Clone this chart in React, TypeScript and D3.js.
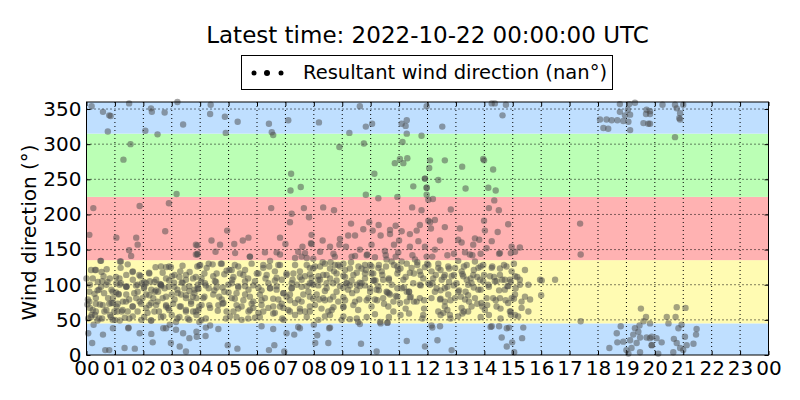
import { useEffect, useRef } from "react";
import * as d3 from "d3";

// wind direction observations, [hour of day (UTC), degrees]
const obs00to04 = [
  [0.18, 354], [0.58, 346], [0.8, 341], [0.85, 340], [0.75, 318], [1.5, 358], [1.55, 300], [1.3, 278],
  [2.27, 351], [2.3, 346], [2.75, 345], [2.07, 319], [2.5, 314], [3.2, 360], [3.4, 328], [3.17, 229],
  [0.24, 209], [1.87, 212], [2.9, 216], [0.1, 171], [1.05, 167], [1.75, 167], [1.8, 157], [1.5, 149],
  [2.77, 176], [3.9, 156], [3.9, 143], [1.57, 141],
  [0.49, 134], [0.3, 121], [0.53, 118], [0.6, 112], [1.18, 133], [1.2, 124], [1.63, 119], [1.9, 112],
  [2.2, 117], [2.43, 125], [2.8, 125], [2.97, 125], [3.3, 119], [3.63, 118], [3.9, 126],
  [0.0, 109], [0.4, 104], [0.55, 105], [0.88, 93], [1.17, 100], [1.4, 97], [1.95, 102], [2.02, 95],
  [2.23, 105], [2.58, 101], [2.75, 95], [2.9, 97], [3.08, 103], [3.35, 103], [3.62, 91], [3.8, 93],
  [0.05, 79], [0.33, 81], [0.62, 88], [0.93, 81], [1.13, 86], [1.28, 76], [1.5, 79], [1.75, 81],
  [2.1, 86], [2.35, 81], [2.52, 90], [2.68, 81], [3.0, 86], [3.33, 86], [3.5, 81], [3.87, 81],
  [0.12, 67], [0.47, 72], [0.7, 64], [0.88, 74], [1.06, 69], [1.24, 62], [1.63, 69], [1.87, 76],
  [2.1, 67], [2.28, 74], [2.55, 62], [2.87, 67], [3.28, 69], [3.5, 64], [3.75, 62],
  [0.06, 52], [0.3, 57], [0.83, 57], [1.35, 53], [1.63, 55], [1.93, 50], [2.28, 49], [2.7, 55],
  [3.0, 57], [3.2, 52], [3.56, 52], [3.87, 57],
  [0.25, 43], [0.06, 31], [0.58, 29], [0.93, 38], [1.47, 38], [1.87, 31], [2.28, 30], [2.7, 38],
  [2.93, 43], [3.15, 36], [3.4, 31], [3.62, 24], [3.87, 33], [0.2, 17], [0.66, 7], [0.8, 7],
  [1.34, 10], [1.7, 9], [2.33, 18], [2.97, 17], [3.28, 12], [3.5, 5],
  [0.28, 87], [0.44, 93], [0.76, 81], [0.93, 74], [1.08, 62], [1.4, 86], [1.45, 62], [1.8, 90],
  [1.97, 81], [2.15, 60], [2.4, 90], [2.45, 71], [2.63, 98], [2.8, 71], [3.1, 79], [3.2, 93],
  [3.45, 95], [3.68, 76], [3.8, 88], [0.1, 90], [0.03, 72], [0.18, 57], [0.33, 62], [0.55, 52],
  [1.0, 50], [1.17, 49], [1.4, 114], [1.63, 107], [1.8, 100], [2.1, 102], [2.28, 93], [2.45, 107],
  [2.8, 109], [3.1, 114], [3.5, 107], [3.75, 109], [3.92, 100], [1.05, 102], [0.82, 109], [0.7, 100],
  [0.12, 100], [2.62, 100], [1.4, 97],
];

const obs04to08 = [
  [4.37, 356], [4.35, 343], [4.87, 339], [5.32, 332], [4.9, 316], [6.42, 329], [6.52, 317], [6.57, 313],
  [7.1, 334], [7.2, 258], [7.18, 234], [7.54, 239], [6.5, 209], [7.22, 201], [7.16, 189], [7.65, 209],
  [7.83, 196], [4.95, 177], [4.4, 163], [4.7, 157], [5.2, 158], [5.5, 163], [5.7, 167], [6.81, 167],
  [7.0, 158], [7.6, 154], [7.9, 159], [3.85, 157], [3.91, 144], [4.54, 147],
  [5.23, 145], [5.75, 140], [6.28, 146], [6.69, 146], [7.34, 138], [7.69, 145],
  [4.0, 128], [4.3, 130], [4.76, 130], [5.34, 126], [5.81, 130], [6.22, 124], [6.46, 134], [6.81, 128],
  [7.04, 116], [7.51, 119], [7.86, 124],
  [4.05, 109], [4.46, 112], [4.93, 120], [5.13, 107], [5.52, 114], [5.93, 105], [6.3, 109], [6.63, 106],
  [7.22, 102], [7.57, 107], [7.92, 102],
  [3.94, 94], [4.3, 95], [4.58, 96], [4.85, 90], [5.34, 98], [5.7, 93], [6.05, 96], [6.46, 95],
  [6.93, 88], [7.22, 95], [7.75, 98],
  [4.11, 81], [4.46, 86], [4.76, 79], [5.11, 81], [5.58, 86], [5.87, 76], [6.28, 81], [6.75, 79],
  [7.04, 83], [7.45, 79], [7.86, 83],
  [3.94, 64], [4.35, 67], [4.82, 74], [5.17, 62], [5.46, 69], [5.87, 67], [6.16, 71], [6.63, 60],
  [6.93, 67], [7.34, 74], [7.69, 62],
  [4.05, 50], [4.35, 42], [4.64, 37], [5.05, 55], [5.46, 50], [5.93, 53], [6.57, 37], [6.89, 52],
  [7.04, 31], [7.31, 29], [7.51, 38],
  [3.88, 26], [4.19, 27], [4.97, 14], [5.31, 9], [6.42, 7], [6.61, 14], [6.96, 5],
  [4.17, 102], [4.52, 105], [4.99, 100], [5.28, 88], [5.58, 105], [5.75, 83], [6.1, 86], [6.4, 102],
  [6.69, 93], [6.87, 107], [7.16, 86], [7.4, 100], [7.63, 86], [7.81, 90], [4.05, 71], [4.64, 71],
  [4.93, 62], [5.28, 71], [5.7, 62], [6.05, 60], [6.4, 67], [6.81, 69], [7.16, 62], [7.51, 62],
  [7.86, 69], [4.23, 124], [4.58, 116], [5.11, 121], [5.58, 121], [6.05, 116], [6.63, 119], [7.34, 128],
  [7.69, 112], [6.81, 143], [7.45, 147], [7.75, 138],
];

const obs08to12 = [
  [9.62, 354], [8.18, 331], [9.83, 325], [10.05, 329], [9.25, 316], [8.9, 296], [9.76, 301], [11.09, 329],
  [11.27, 334], [11.23, 326], [11.27, 315], [11.12, 303], [11.79, 312],
  [11.03, 279], [11.15, 273], [11.29, 280], [10.85, 273], [10.13, 258], [11.91, 251], [11.5, 240], [11.97, 238],
  [9.83, 228], [10.27, 223], [10.94, 225], [8.33, 210], [8.71, 206], [11.46, 210], [11.79, 206], [11.97, 228],
  [9.31, 187], [9.95, 189], [10.28, 185], [10.88, 184], [10.68, 178], [11.09, 176], [11.73, 185], [12.03, 191],
  [8.31, 163], [8.92, 165], [9.21, 170], [9.45, 170], [9.74, 179], [10.07, 177], [10.35, 170], [10.68, 172],
  [11.0, 163], [11.38, 172], [11.62, 177], [7.92, 171], [7.92, 158],
  [8.22, 147], [8.57, 154], [8.9, 157], [9.13, 154], [9.62, 150], [10.03, 157], [10.5, 148], [10.82, 157],
  [11.38, 154], [11.68, 162], [11.91, 154],
  [8.69, 144], [9.33, 140], [9.88, 143], [10.15, 139], [10.56, 136], [10.97, 146], [11.56, 136], [11.97, 140],
  [8.04, 126], [8.31, 132], [8.59, 132], [8.92, 126], [9.31, 132], [9.8, 128], [10.27, 124], [10.54, 126],
  [10.94, 126], [11.27, 130], [11.64, 132], [11.91, 125],
  [7.92, 110], [8.33, 114], [8.71, 119], [9.04, 113], [9.33, 106], [9.51, 117], [9.83, 121], [10.12, 106],
  [10.39, 119], [10.64, 107], [10.97, 121], [11.38, 117], [11.73, 119],
  [7.98, 100], [8.45, 102], [8.8, 106], [9.15, 102], [9.68, 102], [9.98, 95], [10.27, 98], [10.56, 90],
  [11.09, 95], [11.35, 90], [11.73, 100], [12.03, 102],
  [8.1, 86], [8.39, 91], [8.8, 90], [9.04, 82], [9.35, 88], [9.62, 98], [10.21, 93], [10.44, 81],
  [10.89, 84], [11.27, 90], [11.38, 82], [11.62, 76],
  [8.19, 79], [8.57, 79], [9.04, 68], [9.6, 79], [10.15, 79], [10.8, 76],
  [8.69, 68], [8.39, 55], [9.04, 55], [9.27, 51], [9.62, 44], [10.15, 58], [10.33, 47], [10.59, 46],
  [10.8, 62], [11.27, 76], [11.85, 57],
  [8.0, 43], [8.54, 38], [8.12, 28], [8.05, 17], [8.51, 17], [9.66, 16], [10.21, 5], [11.27, 20], [11.91, 12],
  [8.16, 107], [8.57, 109], [8.92, 98], [9.21, 93], [9.51, 100], [9.8, 109], [10.03, 116], [10.44, 107],
  [10.74, 100], [11.15, 107], [11.5, 102], [11.85, 109], [8.22, 126], [8.74, 128], [9.1, 121], [9.57, 126],
  [10.03, 126], [10.74, 133], [11.09, 133], [11.44, 124], [8.33, 81], [8.86, 76], [9.39, 71], [9.92, 81],
  [10.68, 86], [11.03, 74], [11.73, 81], [8.04, 71], [8.51, 62], [10.62, 69],
];

const obs12to16 = [
  [11.97, 354], [12.52, 325], [14.26, 358], [14.37, 358], [14.76, 356], [14.64, 341],
  [12.09, 277], [12.06, 266], [12.61, 277], [13.22, 268], [13.96, 279], [13.99, 277], [14.31, 264],
  [11.91, 251], [12.38, 249], [11.97, 238], [13.34, 237], [14.14, 238], [14.4, 234],
  [12.03, 221], [12.19, 222], [12.82, 207], [14.16, 209], [14.35, 220], [14.51, 206],
  [12.09, 189], [12.26, 192], [12.12, 180], [12.61, 182], [13.14, 180], [13.99, 191], [14.02, 177], [14.47, 175],
  [14.84, 186], [12.44, 163], [13.08, 164], [13.2, 160], [13.67, 166], [13.82, 164], [14.26, 162], [14.96, 154],
  [15.25, 153], [12.26, 150], [12.7, 142], [13.32, 146], [13.61, 157], [14.08, 152], [14.55, 145], [15.08, 147],
  [12.03, 128], [12.38, 124], [12.73, 126], [13.08, 134], [13.49, 143], [13.79, 124], [14.26, 124], [14.55, 123],
  [14.96, 119], [15.43, 121],
  [12.14, 119], [12.5, 107], [12.85, 112], [13.2, 119], [13.38, 107], [13.61, 114], [13.96, 105], [14.37, 105],
  [14.72, 107], [15.08, 112], [15.96, 107],
  [12.09, 100], [12.32, 95], [12.61, 95], [13.02, 102], [13.43, 100], [13.79, 93], [14.14, 100], [14.43, 105],
  [14.84, 98], [15.25, 100],
  [12.26, 90], [12.44, 79], [12.73, 86], [13.08, 90], [13.43, 85], [13.9, 74], [14.31, 81], [14.72, 93],
  [15.08, 86], [15.43, 83], [15.61, 79],
  [12.38, 62], [12.56, 60], [12.79, 57], [13.2, 67], [13.55, 69], [14.43, 69], [14.84, 74], [15.19, 55], [15.31, 67],
  [12.14, 42], [12.44, 41], [12.35, 21], [12.85, 7], [14.26, 41], [14.52, 41], [14.79, 38], [15.37, 39],
  [14.61, 25], [14.79, 12], [14.98, 18], [15.33, 24], [15.05, 4],
  [12.2, 109], [12.61, 114], [12.97, 124], [13.26, 112], [13.55, 102], [13.85, 107], [14.2, 112], [14.55, 114],
  [14.9, 107], [15.25, 107], [15.55, 100], [12.14, 81], [12.61, 76], [12.97, 81], [13.32, 79], [13.67, 81],
  [14.08, 81], [14.55, 81], [14.96, 81], [15.31, 76], [12.38, 130], [13.38, 128], [13.67, 133], [13.96, 128],
  [14.78, 126], [12.61, 69], [13.08, 55], [13.43, 62], [14.02, 64], [14.9, 62], [15.08, 57], [15.55, 62],
];

const obs16to20 = [
  [18.77, 357], [19.1, 357], [19.3, 359], [18.77, 346], [18.95, 341], [19.05, 349], [19.13, 342],
  [18.07, 335], [18.3, 335], [18.48, 334], [18.68, 334], [18.89, 333], [19.07, 332], [18.19, 323],
  [18.36, 322], [19.13, 320], [19.6, 330], [19.77, 329], [19.71, 349], [19.83, 343], [19.69, 343],
  [17.37, 187], [17.39, 143], [16.49, 107], [16.02, 106], [16.0, 85], [17.39, 48],
  [19.51, 66], [19.69, 54], [19.6, 48], [19.46, 42], [19.3, 38], [19.42, 33], [19.24, 29], [19.48, 25],
  [19.13, 21], [19.36, 17], [19.71, 25], [19.83, 24], [18.8, 41], [18.66, 31], [18.68, 18], [18.4, 10],
  [18.89, 19], [19.0, 7], [19.18, 10], [19.48, 4], [19.89, 14], [20.06, 24], [20.12, 2], [19.07, 2],
];

const obs20to24 = [
  [20.27, 356], [20.71, 356], [21.0, 356], [20.77, 351], [20.89, 344], [20.86, 337], [20.89, 335],
  [19.83, 347], [19.83, 329], [20.71, 310],
  [20.77, 68], [21.08, 67], [20.42, 54], [20.73, 54], [20.48, 45], [19.83, 45], [20.94, 43], [20.83, 38],
  [21.47, 37], [21.45, 29], [21.06, 26], [20.67, 23], [20.24, 18], [19.89, 26], [19.89, 14], [20.77, 17],
  [20.89, 10], [21.36, 16], [21.12, 14], [20.65, 4], [21.0, 7],
];

// extra readings from the crowded easterly band
const dense00to05 = [
  [3.85, 143], [0.51, 134], [1.21, 133], [1.45, 129], [2.62, 126], [2.91, 126], [3.38, 127], [3.97, 127],
  [4.44, 129], [4.73, 130], [0.16, 121], [0.33, 121], [0.71, 122],
  [1.62, 118], [1.86, 114], [2.21, 116], [2.68, 117], [3.01, 112], [3.27, 111], [3.5, 114], [3.85, 111],
  [4.15, 116], [1.04, 111], [1.16, 109], [4.85, 115], [5.03, 121], [0.22, 109], [0.74, 104], [2.03, 104],
  [2.39, 104], [2.91, 106], [3.38, 103], [4.03, 104], [4.56, 104],
  [1.21, 102], [1.41, 98], [1.74, 99], [2.03, 97], [2.62, 100], [3.09, 97], [3.62, 98], [3.91, 95],
  [4.2, 99], [4.5, 92], [4.79, 96], [0.39, 92], [0.51, 97], [0.92, 90], [1.04, 89], [1.13, 87],
  [1.68, 88], [2.21, 85], [2.45, 92], [2.8, 83], [3.21, 88], [3.5, 85], [3.74, 83], [4.15, 83],
  [4.67, 83], [5.0, 89],
  [0.1, 76], [0.33, 73], [0.57, 71], [0.8, 73], [1.1, 73], [1.39, 76], [1.62, 69], [1.92, 73],
  [2.21, 71], [2.5, 76], [2.8, 69], [3.05, 73], [3.32, 69], [3.68, 73], [3.97, 69], [4.32, 71],
  [4.79, 73], [0.22, 64], [0.63, 62], [0.98, 62], [1.27, 64], [1.8, 62], [2.39, 62], [2.91, 64],
  [3.5, 62], [3.85, 62], [4.62, 63],
  [0.16, 54], [0.45, 52], [0.86, 54], [1.51, 52], [2.03, 54], [2.62, 54], [3.27, 54], [3.62, 50],
  [4.2, 52], [4.91, 52], [0.39, 49], [0.92, 50], [2.27, 49], [3.15, 47], [3.97, 47], [1.48, 39],
  [2.8, 38], [4.2, 39],
];

const dense05to10 = [
  [5.75, 140], [7.57, 140], [7.98, 137], [8.74, 140], [9.45, 141], [9.86, 142], [6.75, 128], [7.75, 128],
  [7.98, 123], [8.39, 130], [9.04, 130], [8.57, 123], [8.86, 128], [9.27, 123], [9.68, 123], [9.98, 128],
  [5.22, 128], [6.22, 128], [6.43, 126],
  [5.17, 111], [5.4, 116], [5.69, 109], [5.99, 116], [6.34, 114], [6.69, 110], [7.04, 114], [7.28, 116],
  [7.51, 111], [7.86, 115], [8.16, 112], [8.45, 114], [8.8, 116], [9.1, 111], [9.39, 114], [9.8, 116],
  [10.09, 116], [7.25, 107], [8.22, 107], [9.15, 102], [9.62, 103],
  [5.11, 102], [5.34, 96], [5.58, 98], [5.87, 99], [6.16, 92], [6.46, 95], [6.69, 98], [6.93, 88],
  [7.22, 95], [7.57, 97], [7.86, 102], [8.16, 99], [8.45, 95], [8.68, 102], [9.04, 96], [9.27, 99],
  [9.51, 92], [9.8, 99], [10.09, 106], [9.98, 90],
  [5.22, 80], [5.52, 78], [5.81, 73], [6.16, 78], [6.57, 80], [6.87, 73], [7.16, 78], [7.57, 76],
  [7.98, 80], [8.39, 78], [8.68, 83], [9.1, 78], [9.45, 76], [9.86, 78], [5.34, 66], [5.75, 64],
  [6.22, 62], [6.57, 69], [7.1, 64], [7.51, 66], [7.86, 62], [8.27, 66], [8.63, 64], [9.04, 69],
  [9.56, 64], [10.03, 69],
  [5.28, 54], [5.69, 52], [6.1, 54], [6.57, 59], [6.93, 50], [7.34, 57], [7.75, 54], [8.16, 50],
  [8.57, 57], [8.98, 50], [9.51, 52], [9.86, 54], [6.16, 41], [8.57, 39], [9.56, 47], [7.45, 40],
];

const dense10to15 = [
  [10.53, 142], [10.88, 140], [11.47, 142], [12.17, 140], [12.93, 144], [13.58, 142], [13.87, 144],
  [14.52, 144], [14.93, 145], [10.29, 128], [10.82, 128], [11.05, 123], [11.64, 128], [11.99, 130],
  [12.46, 121], [12.76, 123], [13.28, 126], [13.63, 121], [13.87, 126], [14.28, 126], [14.69, 128],
  [15.04, 130],
  [10.17, 106], [10.41, 114], [10.64, 109], [10.94, 116], [11.23, 111], [11.52, 116], [11.76, 114],
  [12.29, 114], [12.58, 111], [12.93, 114], [13.23, 115], [13.52, 109], [13.75, 111], [13.99, 114],
  [14.34, 111], [14.63, 107], [14.93, 104], [15.16, 111], [12.76, 104],
  [10.29, 92], [10.59, 89], [10.94, 95], [11.17, 96], [11.35, 90], [11.41, 83], [11.52, 76], [11.76, 99],
  [12.17, 102], [12.46, 92], [12.7, 97], [12.93, 99], [13.11, 92], [13.34, 90], [13.63, 96], [13.87, 93],
  [14.16, 97], [14.52, 92], [14.81, 98], [15.1, 95],
  [10.23, 78], [10.64, 88], [10.94, 83], [11.88, 78], [12.46, 80], [12.81, 78], [13.17, 83], [13.46, 76],
  [13.75, 73], [14.1, 71], [14.4, 78], [14.75, 78], [15.04, 80], [10.47, 73], [11.23, 66], [11.88, 66],
  [12.7, 64], [13.28, 62], [13.93, 69], [14.57, 66], [14.93, 62],
  [10.64, 54], [11.05, 57], [11.35, 59], [12.46, 57], [12.81, 52], [13.23, 59], [13.87, 54], [14.16, 57],
  [14.57, 52], [14.93, 57], [10.35, 45], [10.59, 46], [11.82, 52], [12.17, 39], [14.22, 40], [14.87, 39],
];

// compass sectors drawn behind the points
const sectorBounds = [
  [0, 45], [45, 135], [135, 225], [225, 315], [315, 360],
];
const sectorColors = ["#bfdfff", "#fffbb2", "#ffb2b2", "#bbffb5", "#bfdfff"];

const yTicks = [0, 50, 100, 150, 200, 250, 300, 350];
const hourTicks = d3.range(0, 25);

const titleText = "Latest time: 2022-10-22 00:00:00 UTC";
const legendText = "Resultant wind direction (nan°)";
const yLabel = "Wind direction (°)";

export default function App() {
  const ref = useRef(null);

  useEffect(() => {
    document.body.style.margin = "0";
    const width = 800;
    const height = 400;
    const margin = { left: 86.5, right: 31.5, top: 102, bottom: 45 };
    const font = "DejaVu Sans, sans-serif";

    const svg = d3.select(ref.current);
    svg.selectAll("*").remove();
    svg.attr("width", width).attr("height", height);

    const x = d3.scaleLinear().domain([0, 24]).range([margin.left, width - margin.right]);
    const y = d3.scaleLinear().domain([0, 360]).range([height - margin.bottom, margin.top]);

    svg.append("rect").attr("width", width).attr("height", height).attr("fill", "white");

    // sector bands
    svg
      .selectAll("rect.band")
      .data(sectorBounds)
      .enter()
      .append("rect")
      .attr("class", "band")
      .attr("x", x(0))
      .attr("width", x(24) - x(0))
      .attr("y", (d) => y(d[1]))
      .attr("height", (d) => y(d[0]) - y(d[1]))
      .attr("fill", (d, i) => sectorColors[i]);

    // dotted grid
    const grid = svg.append("g").attr("stroke", "black").attr("stroke-width", 1).attr("stroke-dasharray", "1,3");
    grid
      .selectAll("line.v")
      .data(hourTicks.slice(1, -1))
      .enter()
      .append("line")
      .attr("x1", (d) => x(d))
      .attr("x2", (d) => x(d))
      .attr("y1", y(0))
      .attr("y2", y(360));
    grid
      .selectAll("line.h")
      .data(yTicks.slice(1))
      .enter()
      .append("line")
      .attr("x1", x(0))
      .attr("x2", x(24))
      .attr("y1", (d) => y(d))
      .attr("y2", (d) => y(d));

    // points
    const allObs = [
      ...obs00to04, ...obs04to08, ...obs08to12, ...obs12to16, ...obs16to20, ...obs20to24,
      ...dense00to05, ...dense05to10, ...dense10to15,
    ];
    svg
      .append("g")
      .selectAll("circle")
      .data(allObs)
      .enter()
      .append("circle")
      .attr("cx", (d) => x(d[0]))
      .attr("cy", (d) => y(d[1]))
      .attr("r", 3.2)
      .attr("fill", "#4a4a4a")
      .attr("fill-opacity", 0.5);

    // axes, ticks pointing inward on all four sides
    const hourFmt = (d) => d3.format("02d")(d % 24);
    const styleAxis = (g) => {
      g.select(".domain").remove();
      g.selectAll(".tick line").attr("stroke", "black");
      g.selectAll(".tick text").attr("font-family", font).attr("font-size", 20).attr("fill", "black");
    };
    svg
      .append("g")
      .attr("transform", `translate(0,${y(0)})`)
      .call(d3.axisBottom(x).tickValues(hourTicks).tickFormat(hourFmt).tickSize(-4).tickPadding(6))
      .call(styleAxis);
    svg
      .append("g")
      .attr("transform", `translate(0,${y(360)})`)
      .call(d3.axisTop(x).tickValues(hourTicks).tickFormat(() => "").tickSize(-4))
      .call(styleAxis);
    svg
      .append("g")
      .attr("transform", `translate(${x(0)},0)`)
      .call(d3.axisLeft(y).tickValues(yTicks).tickSize(-4).tickPadding(5))
      .call(styleAxis);
    svg
      .append("g")
      .attr("transform", `translate(${x(24)},0)`)
      .call(d3.axisRight(y).tickValues(yTicks).tickFormat(() => "").tickSize(-4))
      .call(styleAxis);

    // frame
    svg
      .append("rect")
      .attr("x", x(0))
      .attr("y", y(360))
      .attr("width", x(24) - x(0))
      .attr("height", y(0) - y(360))
      .attr("fill", "none")
      .attr("stroke", "black")
      .attr("stroke-width", 1);

    // y label
    svg
      .append("text")
      .attr("transform", `translate(36,${(y(0) + y(360)) / 2 + 4}) rotate(-90)`)
      .attr("text-anchor", "middle")
      .attr("font-family", font)
      .attr("font-size", 20)
      .text(yLabel);

    // title
    svg
      .append("text")
      .attr("x", (x(0) + x(24)) / 2)
      .attr("y", 43)
      .attr("text-anchor", "middle")
      .attr("font-family", font)
      .attr("font-size", 23)
      .text(titleText);

    // legend
    const legend = svg.append("g");
    legend
      .append("rect")
      .attr("x", 241.5)
      .attr("y", 55.5)
      .attr("width", 371)
      .attr("height", 34)
      .attr("fill", "white")
      .attr("stroke", "black");
    legend
      .selectAll("circle")
      .data([
        [254, 2.5],
        [267, 3],
        [281, 2.5],
      ])
      .enter()
      .append("circle")
      .attr("cx", (d) => d[0])
      .attr("cy", 73)
      .attr("r", (d) => d[1])
      .attr("fill", "black");
    legend
      .append("text")
      .attr("x", 303)
      .attr("y", 79)
      .attr("font-family", font)
      .attr("font-size", 19.5)
      .text(legendText);
  }, []);

  return <svg ref={ref} style={{ display: "block" }}></svg>;
}
